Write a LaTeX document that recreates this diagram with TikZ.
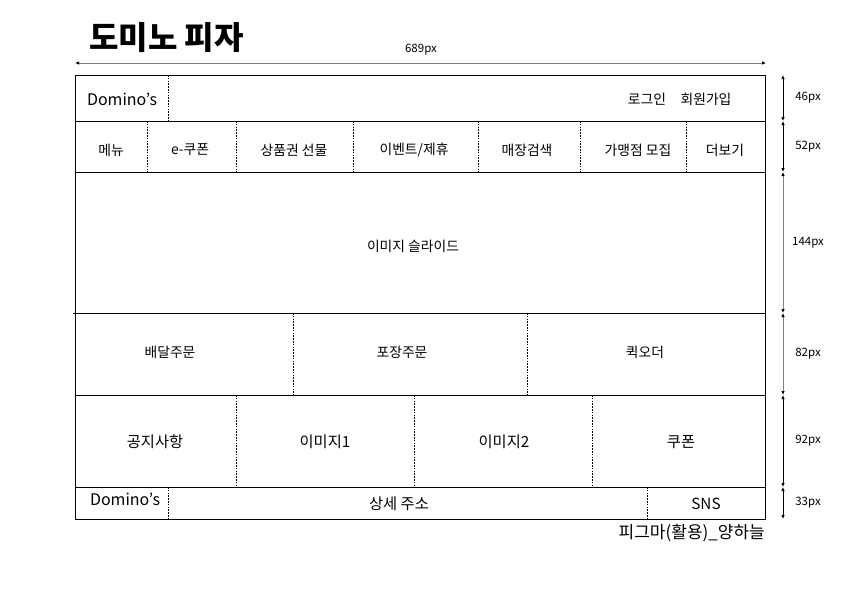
\documentclass[tikz,border=0pt]{standalone}
\usepackage{fontspec}
\setmainfont{Noto Sans CJK KR}
\usetikzlibrary{positioning,arrows.meta}

\begin{document}
\begin{tikzpicture}
[x=1pt, y=-1pt,
% box is used for the frame and the row lines
box/.style={draw=black, line width=0.8pt},
% split is used for the dotted lines between the cells
split/.style={draw=black, line width=0.7pt, dash pattern=on 1.6pt off 1.2pt},
% label styles for the texts of the cells
nav/.style={inner sep=0pt, font=\fontsize{13.8}{15}\selectfont},
big/.style={inner sep=0pt, font=\fontsize{15.3}{17}\selectfont},
% dim is used for the size arrows and their px values
dim/.style={line width=0.8pt, {Latex[length=4pt,width=3.5pt,black]}-{Latex[length=4pt,width=3.5pt,black]}},
size/.style={inner sep=0pt, font=\fontsize{11.5}{13}\selectfont}
]
\useasboundingbox (0,0) rectangle (842,595);
% Title and width
\node[inner sep=0pt, anchor=west, font=\fontsize{32}{35}\selectfont\bfseries] (title) at (89,38) {도미노 피자};
\node[size] (width) at (421,50) {689px};
\coordinate (wl) at (75,63);
\coordinate (wr) at (766,63);
\draw[dim, draw=gray] (wl) -- (wr);
% Frame and rows
\coordinate (tl) at (75,75);
\coordinate (br) at (765,519);
\draw[box] (tl) rectangle (br);
\foreach \y in {121,172,395,487}
  \draw[box] (75,\y) -- (765,\y);
\draw[box] (73,313) -- (765,313);
% Header
\draw[split] (168,75) -- (168,121);
\node[big, font=\fontsize{16}{18}\selectfont] (logo) at (122,99) {Domino’s};
\node[nav] (login) at (647,99) {로그인};
\node[nav] (join) at (706,99) {회원가입};
% Menu bar
\foreach \x in {147,236,353,478,580,686}
  \draw[split] (\x,121) -- (\x,172);
\node[nav] (menu) at (111,150) {메뉴};
\node[nav] (ecoupon) at (190,150) {e-쿠폰};
\node[nav] (gift) at (294,150) {상품권 선물};
\node[nav] (event) at (414,150) {이벤트/제휴};
\node[nav] (store) at (527,150) {매장검색};
\node[nav] (franchise) at (638,150) {가맹점 모집};
\node[nav] (more) at (725,150) {더보기};
% Slide
\node[nav] (slide) at (413,246) {이미지 슬라이드};
% Order
\draw[split] (293,313) -- (293,395);
\draw[split] (527,313) -- (527,395);
\node[nav] (delivery) at (170,352) {배달주문};
\node[nav] (pickup) at (402,352) {포장주문};
\node[nav] (quick) at (645,352) {퀵오더};
% Notice and images
\foreach \x in {236,414,592}
  \draw[split] (\x,395) -- (\x,487);
\node[big] (notice) at (155,442) {공지사항};
\node[big] (image1) at (325,442) {이미지1};
\node[big] (image2) at (504,442) {이미지2};
\node[big] (coupon) at (681,442) {쿠폰};
% Footer
\draw[split] (168,487) -- (168,519);
\draw[split] (647,487) -- (647,519);
\node[big, font=\fontsize{16}{18}\selectfont] (flogo) at (125,499) {Domino’s};
\node[big] (address) at (399,504) {상세 주소};
\node[big] (sns) at (706,504) {SNS};
\node[big, anchor=east, font=\fontsize{17}{19}\selectfont] (credit) at (765,533) {피그마(활용)\_양하늘};
% Heights
\foreach \a/\b/\c/\t in {75/121/black/46px,121/172/black/52px,172/313/gray/144px,313/395/gray/82px,395/487/black/92px,487/519/black/33px}
{
  \coordinate (h\a) at (783,\a);
  \coordinate (h\b) at (783,\b);
  \draw[dim, draw=\c] (h\a) -- (h\b);
  \node[size] (s\a) at (808,{(\a+\b)/2}) {\t};
}
\end{tikzpicture}
\end{document}
